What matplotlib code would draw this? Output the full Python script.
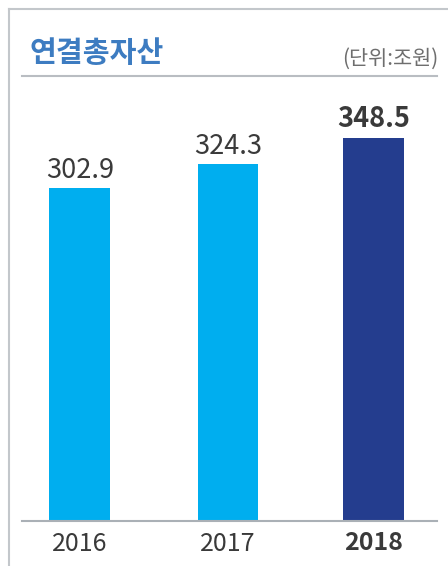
import matplotlib.pyplot as plt
from matplotlib.lines import Line2D

plt.rcParams['font.family'] = ['Noto Sans CJK KR', 'DejaVu Sans']

years = ['2016', '2017', '2018']
values = [302.9, 324.3, 348.5]
colors = ['#00aeef', '#00aeef', '#243d8e']
bold = [False, False, True]

W, H = 448, 566
fig = plt.figure(figsize=(W / 100, H / 100), dpi=100)

def fx(px):
    return px / W

def fy(py):
    return 1 - py / H

# frame lines (left and top)
fig.add_artist(Line2D([fx(9), fx(9)], [fy(9), 0], color='#c3c7cb', lw=1.5))
fig.add_artist(Line2D([fx(9), 1], [fy(9), fy(9)], color='#c3c7cb', lw=1.5))
# header underline
fig.add_artist(Line2D([fx(22), fx(437)], [fy(76), fy(76)], color='#b9bdc2', lw=1.5))

fig.text(fx(29), fy(53), '연결총자산', color='#3d7cc1', fontsize=21,
         fontweight='bold', va='center', ha='left')
fig.text(fx(438), fy(59), '(단위:조원)', color='#6e6e6e', fontsize=15,
         va='center', ha='right')

# axes: baseline at y=521, from x=22 to 437
top_px = 85
ax = fig.add_axes([fx(22), fy(521), fx(437) - fx(22), (521 - top_px) / H])
pos = [0, 1, 1.98]
ax.bar(pos, values, width=0.41, color=colors)
ax.set_xlim(-0.39, 2.41)
ax.set_ylim(0, (521 - top_px) / 1.0994)

for x, v, b in zip(pos, values, bold):
    ax.text(x, v + 4, f'{v:.1f}', ha='center', va='bottom', fontsize=19.5,
            color='#3a3a3a', fontweight='bold' if b else 'normal')

ax.set_xticks(pos)
ax.set_xticklabels(years, fontsize=18, color='#3a3a3a')
for lbl, b in zip(ax.get_xticklabels(), bold):
    lbl.set_fontweight('bold' if b else 'normal')
ax.tick_params(axis='x', length=0, pad=7)
ax.set_yticks([])
for s in ['top', 'left', 'right']:
    ax.spines[s].set_visible(False)
ax.spines['bottom'].set_color('#aab0b6')
ax.spines['bottom'].set_linewidth(1.5)

fig.savefig('out.png', dpi=100)
